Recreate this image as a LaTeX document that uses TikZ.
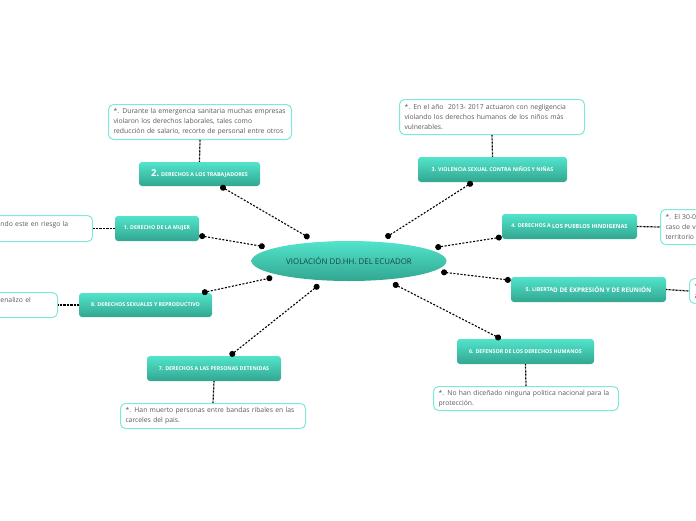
\documentclass[tikz,border=0pt]{standalone}
\usepackage{fontspec}
\setmainfont{Open Sans}
\usetikzlibrary{shapes.geometric,arrows.meta}
\definecolor{tealtop}{HTML}{52E4CB}
\definecolor{tealbot}{HTML}{32A690}
\definecolor{noteline}{HTML}{7EE9D9}
\definecolor{notetext}{HTML}{5A5A5A}
\definecolor{centrotext}{HTML}{1C4644}
\tikzset{
	tema/.style={rectangle,rounded corners=3pt,top color=tealtop,bottom color=tealbot,text=white,font=\bfseries\fontsize{5.3}{6}\selectfont,inner sep=0pt,minimum height=25pt},
	nota/.style={rectangle,rounded corners=5pt,draw=noteline,line width=1pt,fill=white,text=notetext,font=\fontsize{6.8}{10}\selectfont,align=left,inner xsep=5pt,inner ysep=3pt,anchor=north west},
	enlace/.style={line width=1.1pt,dash pattern=on 2pt off 1.6pt,{Circle[length=6pt]}-{Circle[length=6pt]}},
	punteado/.style={line width=1.2pt,dash pattern=on 0.8pt off 0.6pt}
}
\begin{document}
\begin{tikzpicture}[x=1pt,y=-1pt]
			\useasboundingbox (0,0) rectangle (696,520);
			\clip (0,0) rectangle (696,520);
			%CENTRO
			\node[ellipse,top color=tealtop,bottom color=tealbot,text=centrotext,font=\fontsize{7.9}{9}\selectfont,minimum width=195pt,minimum height=40pt,inner sep=0pt,outer sep=5pt] (c) at (349,261) {VIOLACIÓN DD.HH. DEL ECUADOR};
			%TEMAS
			\node[tema,minimum width=121pt,minimum height=24pt] (n2) at (199.5,174) {{\fontsize{9.5}{9}\selectfont 2.} DERECHOS A LOS TRABAJADORES};
			\node[tema,minimum width=149pt] (n3) at (492.5,169.5) {3. VIOLENCIA SEXUAL CONTRA NIÑOS Y NIÑAS};
			\node[tema,minimum width=84pt] (n1) at (157,228.5) {1. DERECHO DE LA MUJER};
			\node[tema,minimum width=133pt,minimum height=24pt] (n8) at (145.5,305) {8. DERECHOS SEXUALES Y REPRODUCTIVO};
			\node[tema,minimum width=135pt] (n4) at (569.5,226.5) {4. DERECHOS A \raisebox{-1pt}{\fontsize{5.7}{6}\selectfont LOS PUEBLOS HINDIGENAS}};
			\node[tema,minimum width=155pt] (n5) at (588.5,289.5) {5. LIBERTA\raisebox{-0.8pt}{\fontsize{6.3}{6}\selectfont D DE EXPRESIÓN Y DE REUNIÓN}};
			\node[tema,minimum width=134pt] (n7) at (214,368.5) {7. DERECHOS A LAS PERSONAS DETENIDAS};
			\node[tema,minimum width=137pt] (n6) at (525.5,351.5) {6. DEFENSOR DE LOS DERECHOS HUMANOS};
			%NOTAS
			\node[nota,text width=173pt,minimum height=35pt] (t2) at (108,104) {*. Durante la emergencia sanitaria muchas empresas\\violaron los derechos laborales, tales como\\reducción de salario, recorte de personal entre otros};
			\node[nota,text width=175pt,minimum height=35pt] (t3) at (399,99) {*. En el año~ 2013- 2017 actuaron con negligencia\\violando los derechos humanos de los niños más\\vulnerables.};
			\node[nota,text width=87pt,minimum height=26pt] (t1) at (-5,215) {ndo este en riesgo la\\~};
			\node[nota,text width=52pt,minimum height=25pt] (t8) at (-5,292) {enalizo el\\~};
			\node[nota,text width=175pt,minimum height=35pt] (t4) at (660,209) {*. El 30-0\\caso de vi\\territorio};
			\node[nota,text width=175pt,minimum height=25pt] (t5) at (689,278) {*\\a};
			\node[nota,text width=175pt,minimum height=25pt] (t7) at (120,403) {*. Han muerto personas entre bandas ribales en las\\carceles del pais.};
			\node[nota,text width=175pt,minimum height=24pt] (t6) at (433,386) {*. No han diceñado ninguna politica nacional para la\\protección.};
			%ENLACES
			\foreach \n in {n1,n2,n3,n4,n5,n6,n7,n8}
				\draw[enlace] (\n) -- (c);
			\draw[punteado] (n2.north) -- (t2.south);
			\draw[punteado] (n3.north) -- (t3.south);
			\draw[punteado] (n1.west) -- (t1.east);
			\draw[punteado] (n8.west) -- (t8.east);
			\draw[punteado] (n4.east) -- (t4.west);
			\draw[punteado] (n5.east) -- (t5.west);
			\draw[punteado] (n7.south) -- (t7.north);
			\draw[punteado] (n6.south) -- (t6.north);
			%	\draw[punteado] (n1) -- (t1);
		\end{tikzpicture}
\end{document}
